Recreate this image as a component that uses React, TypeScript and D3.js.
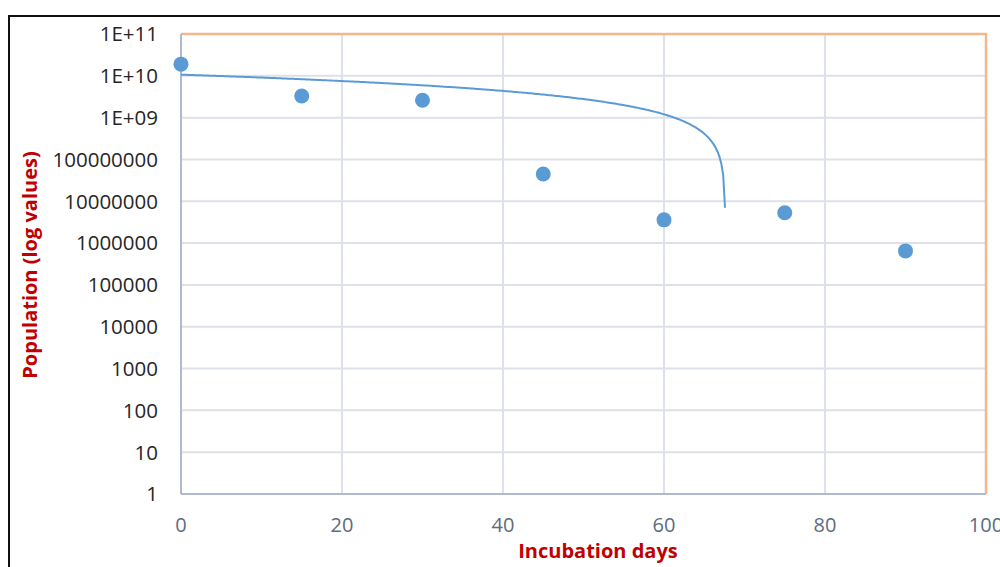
import * as d3 from 'd3'

const days = [0, 15, 30, 45, 60, 75, 90]
const population = [1.9e10, 3.3e9, 2.6e9, 4.5e7, 3.6e6, 5.3e6, 6.5e5]

const xTicks = [0, 20, 40, 60, 80, 100]
const yTicks = [1, 10, 100, 1000, 10000, 100000, 1000000, 10000000, 100000000, 1e9, 1e10, 1e11]
const yTickLabels = ['1', '10', '100', '1000', '10000', '100000', '1000000', '10000000', '100000000', '1E+09', '1E+10', '1E+11']

// lowest value the trendline reaches before it would go below zero
const trendEndValue = 7e6

export default function App() {
  const width = 1000
  const height = 567
  const plot = { left: 181, right: 986, top: 34, bottom: 494 }

  const x = d3.scaleLinear().domain([0, 100]).range([plot.left, plot.right])
  const y = d3.scaleLog().domain([1, 1e11]).range([plot.bottom, plot.top])

  // linear trendline (least squares on the raw values), drawn on the log axis
  const mx = d3.mean(days) as number
  const my = d3.mean(population) as number
  let sxy = 0
  let sxx = 0
  days.forEach((d, i) => {
    sxy += (d - mx) * (population[i] - my)
    sxx += (d - mx) * (d - mx)
  })
  const slope = sxy / sxx
  const intercept = my - slope * mx
  const xEnd = (trendEndValue - intercept) / slope
  const trend: Array<[number, number]> = d3
    .range(0, 301)
    .map((i) => (xEnd * i) / 300)
    .map((d) => [d, intercept + slope * d])

  const line = d3
    .line<[number, number]>()
    .x((d) => x(d[0]))
    .y((d) => y(d[1]))

  const font = '"Open Sans", "Liberation Sans", sans-serif'

  return (
    <svg
      width={width}
      height={height}
      style={{ position: 'absolute', left: 0, top: 0, background: '#fff' }}
      fontFamily={font}
    >
      {/* outer frame */}
      <rect x={9} y={16} width={1100} height={700} fill="#fff" stroke="#111" strokeWidth={2} />

      {/* gridlines */}
      {yTicks.map((t) => (
        <line key={'gy' + t} x1={plot.left} x2={plot.right} y1={y(t)} y2={y(t)} stroke="#dde1e9" strokeWidth={2} />
      ))}
      {xTicks.map((t) => (
        <line key={'gx' + t} x1={x(t)} x2={x(t)} y1={plot.top} y2={plot.bottom} stroke="#dde1e9" strokeWidth={2} />
      ))}

      {/* plot border: orange top/right, grey axes left/bottom */}
      <line x1={plot.left} x2={plot.right + 1} y1={plot.top} y2={plot.top} stroke="#f6b68a" strokeWidth={2.5} />
      <line x1={plot.right} x2={plot.right} y1={plot.top} y2={plot.bottom} stroke="#f6b68a" strokeWidth={2.5} />
      <line x1={plot.left} x2={plot.left} y1={plot.top} y2={plot.bottom} stroke="#b0bace" strokeWidth={2} />
      <line x1={plot.left} x2={plot.right} y1={plot.bottom} y2={plot.bottom} stroke="#b0bace" strokeWidth={2} />

      {/* trendline */}
      <path d={line(trend) ?? ''} fill="none" stroke="#5b9bd5" strokeWidth={2} />

      {/* observations */}
      {days.map((d, i) => (
        <circle key={d} cx={x(d)} cy={y(population[i])} r={7.5} fill="#5b9bd5" />
      ))}

      {/* y tick labels */}
      {yTicks.map((t, i) => (
        <text key={'ly' + t} x={158} y={y(t)} dy="0.36em" textAnchor="end" fontSize={20.5} fill="#262626">
          {yTickLabels[i]}
        </text>
      ))}

      {/* x tick labels */}
      {xTicks.map((t) => (
        <text key={'lx' + t} x={x(t)} y={532} textAnchor="middle" fontSize={20} fill="#5d6b80">
          {t}
        </text>
      ))}

      {/* axis titles */}
      <text x={598} y={558} textAnchor="middle" fontSize={20} fontWeight="bold" fill="#c00000">
        Incubation days
      </text>
      <text
        transform={`translate(37,265) rotate(-90)`}
        textAnchor="middle"
        fontSize={20}
        fontWeight="bold"
        fill="#c00000"
      >
        Population (log values)
      </text>
    </svg>
  )
}
